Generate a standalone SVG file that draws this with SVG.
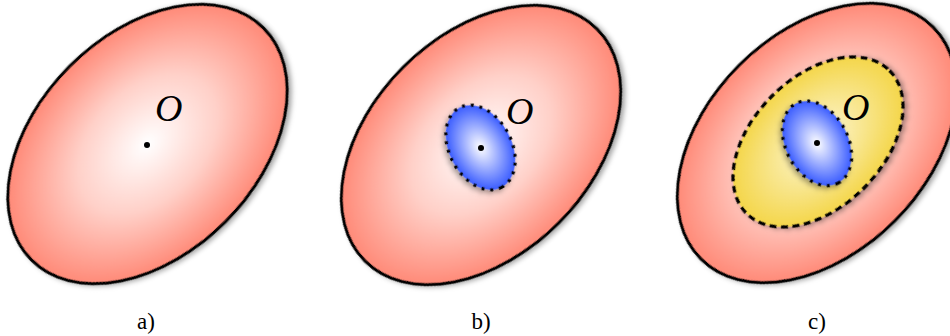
<svg xmlns="http://www.w3.org/2000/svg" width="950" height="336" viewBox="0 0 950 336">
<defs>
<radialGradient id="gRed" cx="0.5" cy="0.5" r="0.5">
<stop offset="0" stop-color="#ffffff"/>
<stop offset="0.5" stop-color="#ffd0c8"/>
<stop offset="1" stop-color="#ff8a78"/>
</radialGradient>
<radialGradient id="gBlue" cx="0.5" cy="0.5" r="0.5">
<stop offset="0" stop-color="#ffffff"/>
<stop offset="1" stop-color="#3a5cff"/>
</radialGradient>
<radialGradient id="gYellow" cx="0.5" cy="0.5" r="0.5">
<stop offset="0" stop-color="#fdf8dc"/>
<stop offset="1" stop-color="#f4d64a"/>
</radialGradient>
<filter id="sh" x="-20%" y="-20%" width="140%" height="140%">
<feDropShadow dx="1.5" dy="3" stdDeviation="2.5" flood-color="#000" flood-opacity="0.35"/>
</filter>
</defs>
<style>
.outer{fill:url(#gRed);stroke:#000;stroke-width:3.1;filter:url(#sh)}
.blue{fill:url(#gBlue);stroke:#000;stroke-width:3.2;stroke-dasharray:3 5.8;filter:url(#sh)}
.yellow{fill:url(#gYellow);stroke:#000;stroke-width:3.3;stroke-dasharray:7 4.5;filter:url(#sh)}
.o{font-family:"Liberation Serif",serif;font-style:italic;font-size:38px;fill:#000}
.lbl{font-family:"Liberation Serif",serif;font-size:23px;fill:#000}
</style>
<g id="panel-a">
<ellipse class="outer" cx="147.5" cy="144" rx="164" ry="110" transform="rotate(-45 147.5 144)"/>
<circle cx="147" cy="145" r="3"/>
<text class="o" x="155" y="121">O</text>
<text class="lbl" x="146" y="329" text-anchor="middle">a)</text>
</g>
<g id="panel-b">
<ellipse class="outer" cx="481" cy="145" rx="164" ry="110" transform="rotate(-45 481 145)"/>
<ellipse class="blue" cx="480.5" cy="147.5" rx="45" ry="31" transform="rotate(62 480.5 147.5)"/>
<circle cx="481" cy="148" r="3"/>
<text class="o" x="506" y="124">O</text>
<text class="lbl" x="481" y="329" text-anchor="middle">b)</text>
</g>
<g id="panel-c">
<ellipse class="outer" cx="817" cy="143" rx="164" ry="110" transform="rotate(-45 817 143)"/>
<ellipse class="yellow" cx="818" cy="142" rx="101" ry="65" transform="rotate(-45 818 142)"/>
<ellipse class="blue" cx="817" cy="143.3" rx="45" ry="31" transform="rotate(62 817 143.3)"/>
<circle cx="817" cy="143" r="3"/>
<text class="o" x="842" y="120">O</text>
<text class="lbl" x="817" y="329" text-anchor="middle">c)</text>
</g>
</svg>
